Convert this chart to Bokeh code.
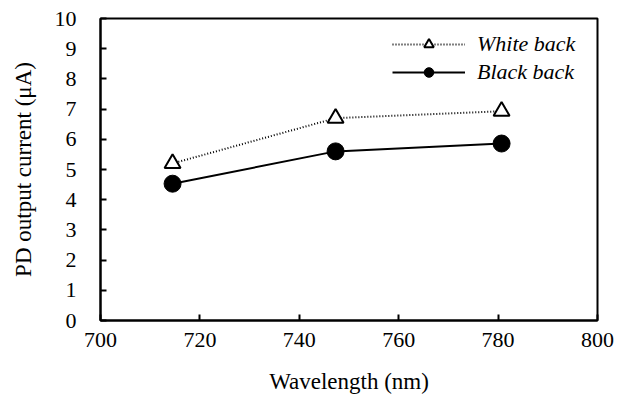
from bokeh.plotting import figure
from bokeh.embed import file_html
from bokeh.resources import INLINE
from bokeh.models import Legend, LegendItem, Range1d, FixedTicker

wavelength = [714.5, 747.3, 780.7]
white_back = [5.2, 6.7, 6.93]
black_back = [4.53, 5.6, 5.86]
x_ticks = [700, 720, 740, 760, 780, 800]
y_ticks = list(range(0, 11))

FONT = "Liberation Serif"

p = figure(frame_width=497, frame_height=302, output_backend="svg",
           toolbar_location=None, x_range=Range1d(700, 800), y_range=Range1d(0, 10))
p.min_border_left = 100
p.min_border_top = 18
p.min_border_right = 18
p.min_border_bottom = 74
p.xgrid.visible = False
p.ygrid.visible = False
p.outline_line_color = "black"
p.outline_line_width = 2
p.background_fill_color = "white"
p.border_fill_color = "white"

for ax in (p.xaxis[0], p.yaxis[0]):
    ax.axis_line_width = 2
    ax.major_tick_in = 6
    ax.major_tick_out = 0
    ax.major_tick_line_width = 2
    ax.minor_tick_line_color = None
    ax.major_label_text_font = FONT
    ax.major_label_text_font_size = "22px"
    ax.major_label_text_color = "black"
    ax.axis_label_text_font = FONT
    ax.axis_label_text_font_size = "23px"
    ax.axis_label_text_font_style = "normal"
    ax.axis_label_text_color = "black"

p.xaxis.ticker = FixedTicker(ticks=x_ticks)
p.yaxis.ticker = FixedTicker(ticks=y_ticks)
p.xaxis.axis_label = "Wavelength (nm)"
p.yaxis.axis_label = "PD output current (μA)"
p.xaxis.major_label_standoff = 12
p.yaxis.major_label_standoff = 24
p.xaxis.axis_label_standoff = 19
p.yaxis.axis_label_standoff = 16

wl = p.line(wavelength, white_back, line_color="black", line_width=2, line_dash="1 2")
wm = p.scatter(wavelength, white_back, marker="triangle", size=16, fill_color="white",
               line_color="black", line_width=2)
bl = p.line(wavelength, black_back, line_color="black", line_width=2)
bm = p.scatter(wavelength, black_back, marker="circle", size=17, fill_color="black",
               line_color="black")

legend = Legend(items=[LegendItem(label="White back", renderers=[wl, wm]),
                       LegendItem(label="Black back", renderers=[bl, bm])],
                location=(292, 235))
legend.glyph_width = 73
legend.glyph_height = 24
legend.label_height = 24
legend.label_standoff = 12
legend.spacing = 2
legend.label_text_font = FONT
legend.label_text_font_style = "italic"
legend.label_text_font_size = "22px"
legend.label_text_color = "black"
legend.background_fill_alpha = 0
legend.border_line_color = None
legend.margin = 0
legend.padding = 0
p.add_layout(legend, "center")

open("out.html", "w").write(file_html(p, INLINE))
